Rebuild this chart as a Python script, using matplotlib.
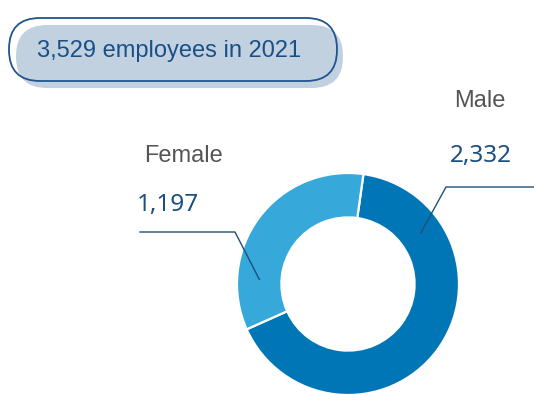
import numpy as np
import matplotlib
matplotlib.use("Agg")
import matplotlib.pyplot as plt
from matplotlib.patches import FancyBboxPatch

# Workforce by gender, 2021
categories = ["Male", "Female"]
employees = [2332, 1197]
year = 2021
total = sum(employees)

colors = ["#0076B6", "#37A8DA"]
W, H = 534, 395

fig = plt.figure(figsize=(W / 100, H / 100), dpi=100)
ax = fig.add_axes([0, 0, 1, 1])
ax.set_xlim(0, W)
ax.set_ylim(0, H)
ax.set_aspect("equal")
ax.axis("off")

# Donut ring
cx, cy, R = 348, 111, 111
wedges, _ = ax.pie(employees, colors=colors, startangle=82, counterclock=False,
                   center=(cx, cy), radius=R, frame=True,
                   wedgeprops=dict(width=0.4 * R, edgecolor="white", linewidth=1.6))
ax.set_xlim(0, W)
ax.set_ylim(0, H)
ax.axis("off")

# Title pill: offset shaded box behind an outlined box
shadow = FancyBboxPatch((16, 307), 327, 63, boxstyle="round,pad=0,rounding_size=31",
                        facecolor="#C2D1E0", edgecolor="none", zorder=3)
outline = FancyBboxPatch((9, 314), 328, 63, boxstyle="round,pad=0,rounding_size=31",
                         facecolor="none", edgecolor="#1F5590", linewidth=1.3, zorder=4)
ax.add_patch(shadow)
ax.add_patch(outline)
ax.text(169, 338, f"{total:,} employees in {year}", ha="center", va="baseline",
        fontsize=17, color="#1A4F86", family="Liberation Sans", zorder=5)

# Labels with leader lines
line_color = "#1F4E79"
label_specs = {
    # name: (anchor angle, elbow point, line end x, name pos, value pos)
    "Male": (35, (446, 208), W, (480, 288), (481, 233)),
    "Female": (177, (235, 163), 140, (184, 233), (168, 184)),
}
for name, val in zip(categories, employees):
    ang, elbow, xend, name_pos, val_pos = label_specs[name]
    a = np.deg2rad(ang)
    ax_, ay_ = cx + 0.8 * R * np.cos(a), cy + 0.8 * R * np.sin(a)
    ax.plot([ax_, elbow[0], xend], [ay_, elbow[1], elbow[1]],
            color=line_color, linewidth=1.0, zorder=6, clip_on=False)
    ax.text(*name_pos, name, ha="center", va="baseline", fontsize=17,
            color="#555555", family="Liberation Sans")
    ax.text(*val_pos, f"{val:,}", ha="center", va="baseline", fontsize=17.5,
            color="#1B4F80", family="Noto Sans")

fig.savefig("out.png", dpi=100, facecolor="white")
